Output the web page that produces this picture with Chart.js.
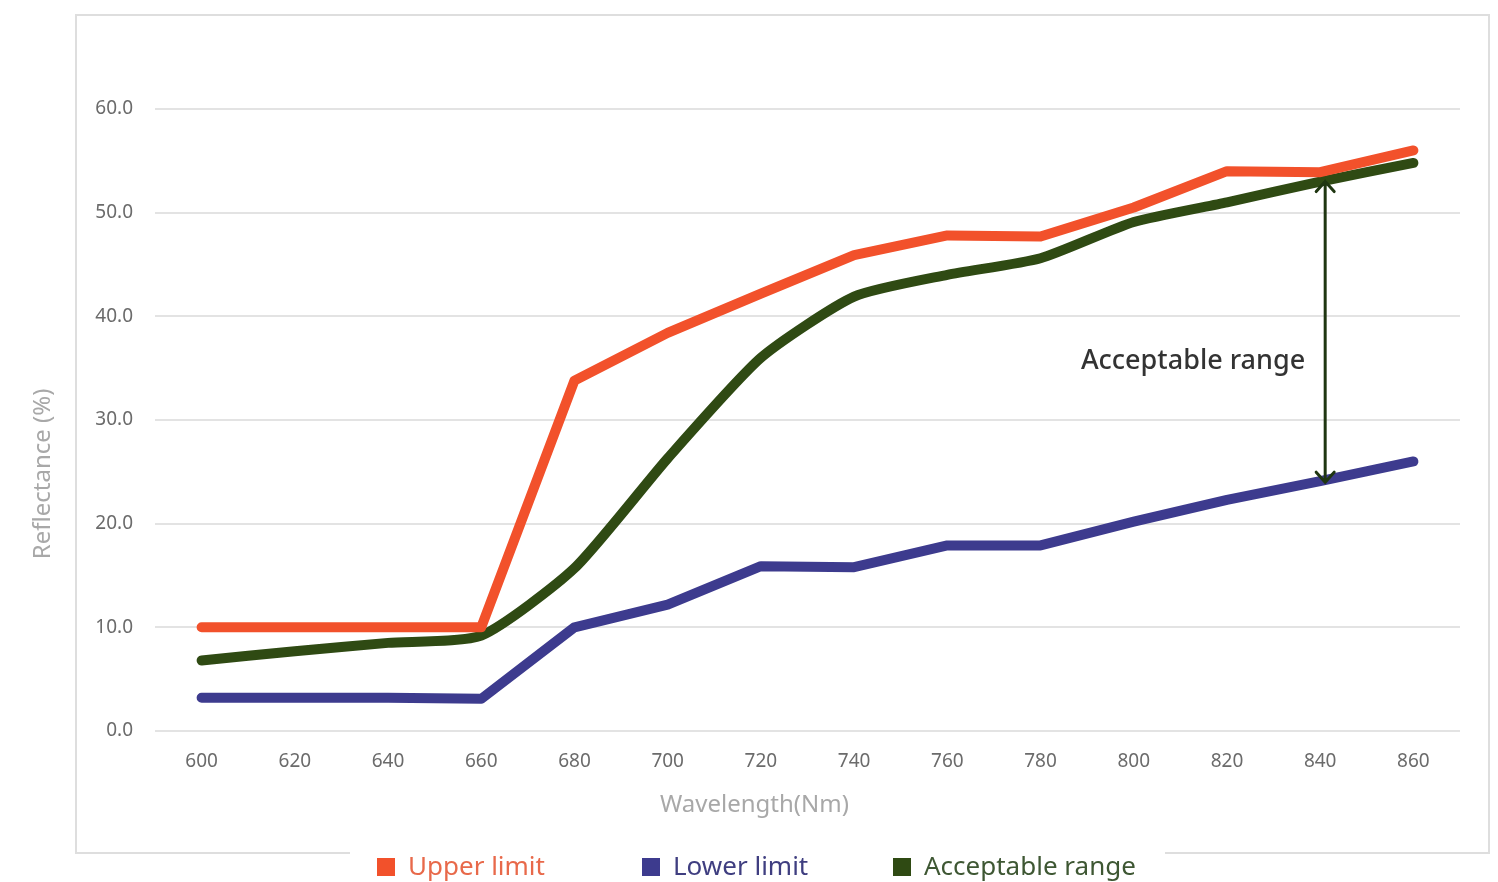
<!DOCTYPE html>
<html>
<head>
<meta charset="utf-8">
<script src="https://cdn.jsdelivr.net/npm/chart.js@4"></script>
<style>
	body { margin: 0; background: #fff; }
	#wrap { position: relative; width: 1498px; height: 882px; }
	#frame { position: absolute; left: 75px; top: 14px; width: 1411px; height: 836px; border: 2px solid #dedede; }
	#chart { position: absolute; left: 0; top: 0; }
	#legend { position: absolute; left: 350px; top: 848px; width: 815px; height: 34px; background: #fff; font-family: "Noto Sans", sans-serif; font-size: 26px; }
	.item { position: absolute; top: 0; line-height: 34px; white-space: nowrap; }
	.item i { display: inline-block; width: 18px; height: 18px; margin-right: 13px; vertical-align: -1px; }
</style>
</head>
<body>
<div id="wrap">
	<div id="frame"></div>
	<canvas id="chart" width="1498" height="882"></canvas>
	<div id="legend"></div>
</div>
<script>
let wavelengths = ['600', '620', '640', '660', '680', '700', '720', '740', '760', '780', '800', '820', '840', '860'];
let upperLimit = [10, 10, 10, 10, 33.8, 38.4, 42.2, 45.9, 47.8, 47.7, 50.5, 54, 53.9, 56];
let lowerLimit = [3.2, 3.2, 3.2, 3.1, 10, 12.2, 15.9, 15.8, 17.9, 17.9, 20.2, 22.3, 24.1, 26];
let acceptableRange = [6.8, 7.7, 8.5, 9.2, 15.7, 26.3, 36, 41.9, 44, 45.6, 49.1, 51, 53, 54.8];

let seriesNames = ['Upper limit', 'Lower limit', 'Acceptable range'];
let seriesColors = ['#f2512b', '#3d3b8e', '#2f4a13'];
let legendTextColors = ['#e8694a', '#3f3e80', '#3e5733'];

// arrow between the two curves at 840
let arrowIndex = 12;
let arrowTop = 53;
let arrowBottom = 24;
let arrowLabel = 'Acceptable range';
let arrowLabelY = 35.7;

// axis titles sit a bit off centre in the original
let xTitle = 'Wavelength(Nm)';
let xTitleAt = 5.93;
let yTitle = 'Reflectance (%)';
let yTitleAt = 24.8;

let arrowPlugin = {
	id: 'arrow',
	afterDatasetsDraw(chart) {
		let c = chart.ctx;
		let xs = chart.scales.x;
		let ys = chart.scales.y;
		let x = xs.getPixelForValue(arrowIndex) + 5;
		let y1 = ys.getPixelForValue(arrowTop);
		let y2 = ys.getPixelForValue(arrowBottom);
		c.save();
		c.strokeStyle = '#1f3611';
		c.lineWidth = 3;
		c.lineCap = 'round';
		c.beginPath();
		c.moveTo(x, y1);
		c.lineTo(x, y2);
		c.moveTo(x - 9, y1 + 10);
		c.lineTo(x, y1);
		c.lineTo(x + 9, y1 + 10);
		c.moveTo(x - 9, y2 - 10);
		c.lineTo(x, y2);
		c.lineTo(x + 9, y2 - 10);
		c.stroke();
		c.fillStyle = '#333';
		c.font = '500 27px "Noto Sans"';
		c.textAlign = 'right';
		c.textBaseline = 'middle';
		c.fillText(arrowLabel, x - 20, ys.getPixelForValue(arrowLabelY));

		// axis titles
		c.textAlign = 'center';
		c.fillStyle = '#a8a8a8';
		c.font = '24px "Noto Sans"';
		c.fillText(xTitle, xs.getPixelForValue(xTitleAt), 805);
		c.translate(43, ys.getPixelForValue(yTitleAt));
		c.rotate(-Math.PI / 2);
		c.fillText(yTitle, 0, 0);
		c.restore();
	}
};

let ctx = document.getElementById('chart');

let lineChart = new Chart(ctx, {
	type: 'line',
	data: {
		labels: wavelengths,
		datasets: [
			{ label: seriesNames[0], data: upperLimit, borderColor: seriesColors[0], backgroundColor: seriesColors[0], borderWidth: 10, tension: 0, borderJoinStyle: 'round', borderCapStyle: 'round', pointRadius: 0 },
			{ label: seriesNames[1], data: lowerLimit, borderColor: seriesColors[1], backgroundColor: seriesColors[1], borderWidth: 10, tension: 0, borderJoinStyle: 'round', borderCapStyle: 'round', pointRadius: 0 },
			{ label: seriesNames[2], data: acceptableRange, borderColor: seriesColors[2], backgroundColor: seriesColors[2], borderWidth: 10, tension: 0.2, borderJoinStyle: 'round', borderCapStyle: 'round', pointRadius: 0 }
		]
	},
	options: {
		responsive: false,
		animation: false,
		layout: { padding: { left: 20, right: 38, top: 109, bottom: 46 } },
		plugins: {
			legend: { display: false },
			tooltip: { enabled: false }
		},
		scales: {
			x: {
				offset: true,
				grid: { display: false, drawTicks: false },
				border: { display: false },
				ticks: { color: '#6b6b6b', font: { family: 'Noto Sans', size: 19 }, padding: 19, maxRotation: 0 },
				afterFit(scale) { scale.height = 105; }
			},
			y: {
				min: 0,
				max: 60,
				ticks: { stepSize: 10, color: '#6b6b6b', font: { family: 'Noto Sans', size: 19 }, padding: 22, callback: (v) => v.toFixed(1) },
				grid: { color: '#e3e3e3', lineWidth: 2, drawTicks: false },
				border: { display: false },
				afterFit(scale) { scale.width = 135; }
			}
		}
	},
	plugins: [arrowPlugin]
});

// legend along the bottom border
let legendEl = document.getElementById('legend');
let legendLeft = [27, 292, 543];
seriesNames.forEach((name, i) => {
	let item = document.createElement('span');
	item.className = 'item';
	item.style.left = legendLeft[i] + 'px';
	item.style.color = legendTextColors[i];
	item.innerHTML = `<i style="background:${seriesColors[i]}"></i>${name}`;
	legendEl.appendChild(item);
});
</script>
</body>
</html>
